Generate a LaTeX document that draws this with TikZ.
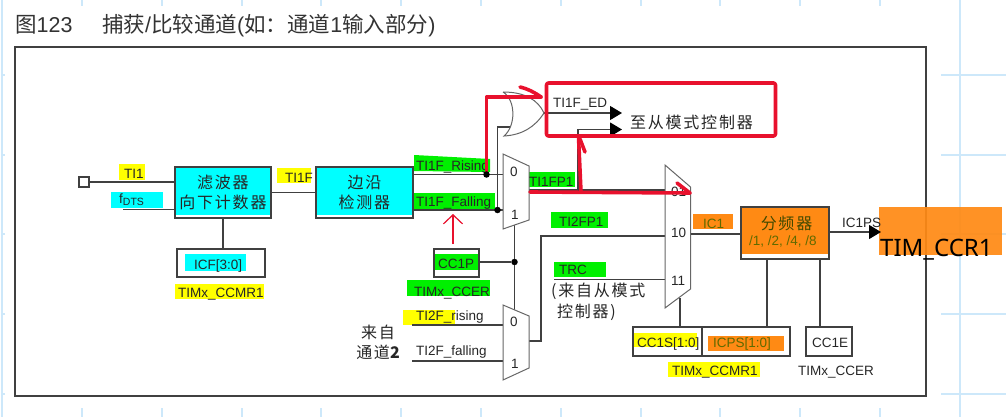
\documentclass[tikz,border=0pt]{standalone}
\usepackage{fontspec}
\setmainfont{Liberation Sans}
\newfontfamily\cjk{Noto Sans CJK SC}
\newfontfamily\cjkwide[LetterSpace=11]{Noto Sans CJK SC}
\newfontfamily\bigsans{Noto Sans}
\usetikzlibrary{arrows.meta}
\definecolor{gridblue}{HTML}{CDE8FA}
\definecolor{hlyellow}{HTML}{FFFF00}
\definecolor{hlcyan}{HTML}{00FFFF}
\definecolor{hlgreen}{HTML}{00F000}
\definecolor{hlorange}{HTML}{FF8A14}
\definecolor{markred}{HTML}{E8112D}
\definecolor{inkolive}{HTML}{5F6A00}

\begin{document}
\begin{tikzpicture}[
  x=1pt,y=-1pt,
  grid/.style={draw=gridblue,line width=1.6pt},
  wire/.style={draw=black!75,line width=1.1pt},
  frameline/.style={draw=black!75,line width=1.3pt},
  muxshape/.style={draw=black!60,line width=1pt,fill=white},
  block/.style={
    rectangle,draw=black!75,line width=1.2pt,inner sep=0pt,align=center,
    font=\cjkwide\fontsize{16}{20}\selectfont,text=black!85
  },
  regbox/.style={rectangle,draw=black!75,line width=1.2pt,inner sep=0pt},
  junction/.style={circle,fill=black,inner sep=0pt,minimum size=6.5pt},
  lab/.style={
    anchor=base west,inner sep=0pt,font=\fontsize{13.5}{15}\selectfont,
    text=black!85
  },
  cjklab/.style={
    anchor=west,inner sep=0pt,font=\cjkwide\fontsize{16}{20}\selectfont,
    text=black!85,align=center
  },
  titletext/.style={
    anchor=base west,inner sep=0pt,font=\fontsize{21.5}{24}\selectfont,
    text=black!80
  },
  sigarrow/.style={
    -{Triangle[length=12pt,width=14pt,color=black]},wire,shorten >=-1pt
  },
  redmark/.style={draw=markred,line width=3.6pt,line cap=round,line join=round},
  redarrow/.style={
    -{Straight Barb[length=9pt,width=19pt]},draw=markred,line width=1.2pt
  }
]
  \useasboundingbox (0,0) rectangle (1006,417);

  % page grid behind the screenshot
  \draw[grid] (2,0)--(2,417);
  \draw[grid] (960,0)--(960,417);
  \foreach \gx in {82,162,242,321,401,481,561,641,720,800,880}
    {\draw[grid] (\gx,0)--(\gx,6); \draw[grid] (\gx,408)--(\gx,417);}
  \foreach \gy in {75,155,234,314,394}
    {\draw[grid] (941,\gy)--(1006,\gy); \draw[grid] (2,\gy)--(5,\gy);}

  % title
  \node[titletext] (figno) at (15,33) {{\cjk 图}123};
  \node[titletext] (figtitle) at (102,33)
    {{\cjk 捕获}/{\cjk 比较通道}({\cjk 如^^^^ff1a通道}1{\cjk 输入部分})};

  \draw[frameline] (15,47) rectangle (926,396);

  % coloured marks
  \foreach \xa/\ya/\xb/\yb/\hl in {
    119/164/145/180/hlyellow, 111/192/163/208/hlcyan, 277/168/311/183/hlyellow,
    413/193/495/209/hlgreen, 526/172/575/187/hlgreen, 551/212/608/228/hlgreen,
    554/262/606/277/hlgreen, 693/214/733/229/hlorange, 185/254/246/271/hlcyan,
    175/284/264/299/hlyellow, 434/254/478/270/hlgreen, 407/280/490/296/hlgreen,
    403/310/455/325/hlyellow, 633/333/697/347/hlyellow, 708/336/784/351/hlorange,
    668/362/760/377/hlyellow, 175/167/271/215/hlcyan, 316/167/413/215/hlcyan,
    741/207/829/254/hlorange}
    {\fill[\hl] (\xa,\ya) rectangle (\xb,\yb);}
  \fill[hlgreen] (414,155)--(490,159)--(490,172)--(414,171)--cycle;
  \fill[hlorange,opacity=.93] (879,207) rectangle (1002,255);

  % input side
  \node[block,minimum width=96pt,minimum height=51pt] (filter) at (223,192.5)
    {滤波器\\向下计数器};
  \node[block,minimum width=97pt,minimum height=51pt] (edge) at (364.5,192.5)
    {边沿\\检测器};
  \node[regbox,minimum size=10pt] (pad) at (84,182) {};
  \node[regbox,minimum width=88pt,minimum height=28pt] (icf) at (221,263) {};
  \node[regbox,minimum width=45pt,minimum height=28pt] (cconep) at (456.5,263) {};
  \coordinate (fdts) at (123,209.5);
  \draw[wire] (pad) -- (pad -| filter.west);
  \draw[wire] (fdts) -- (fdts -| filter.west);
  \draw[wire] (filter) -- (edge);
  \draw[wire] (icf.north -| 223,0) -- (filter.south -| 223,0);

  % polarity and OR gate
  \coordinate (muxabot) at (514,225);
  \coordinate (muxaout) at (529,190);
  \coordinate (risein) at (503,174.5);
  \coordinate (fallin) at (503,210);
  \coordinate (muxcout) at (529,341);
  \coordinate (orin) at (510,127);
  \coordinate (ortip) at (544,113);
  \coordinate (tionetap) at (578,190);
  \coordinate (edout) at (621,113);
  \coordinate (fpout) at (621,129.5);
  \coordinate (muxbten) at (665,236);
  \coordinate (muxbeleven) at (665,279.7);
  \coordinate (muxbone) at (665,190);
  \coordinate (trcstart) at (554,279.7);
  \coordinate (risetwo) at (503,325);
  \coordinate (falltwo) at (503,361);

  \draw[wire] (risein -| edge.east) -- (risein);
  \draw[wire] (fallin -| edge.east) -- (fallin);
  \node[junction] (falldot) at (497.5,210) {};
  \draw[wire] (falldot) |- (orin);
  \node[junction] (poldot) at (514.5,262) {};
  \draw[wire] (cconep.east |- poldot) -- (poldot);
  \draw[wire] (muxabot -| poldot) -- (poldot) -- (poldot |- 0,310);
  \draw[wire] (412,325) -- (risetwo);
  \draw[wire] (412,361) -- (falltwo);
  \draw[wire] (muxaout) -- (muxbone);
  \draw[sigarrow] (ortip) -- (edout);
  \draw[sigarrow] (tionetap) |- (fpout);
  \draw[wire] (muxcout) -| (541,236) -- (muxbten);
  \draw[wire] (trcstart) -- (muxbeleven);

  \draw[muxshape] (503,154)--(529,166)--(529,220)--(503,229)--cycle;
  \draw[muxshape] (503,305)--(529,316)--(529,368)--(503,380)--cycle;
  \draw[muxshape] (665,165)--(690.5,187)--(690.5,289)--(665,308)--cycle;
  \draw[muxshape] (503,92) .. controls (525,92) and (538,100) .. (ortip)
    .. controls (535,127) and (522,135) .. (504,136)
    .. controls (516,126) and (516,100) .. (503,92);

  % output side
  \node[block,minimum width=88pt,minimum height=52pt] (divider) at (785,233) {};
  \node[regbox,minimum width=69pt,minimum height=29pt] (ccones) at (667.5,341.5) {};
  \node[regbox,minimum width=88pt,minimum height=29pt] (icps) at (746,341.5) {};
  \node[regbox,minimum width=46pt,minimum height=29pt] (ccone) at (829,341.5) {};
  \coordinate (divin) at (741,234);
  \coordinate (divout) at (880,232);
  \draw[wire] (690.5,234) -- (divin);
  \draw[sigarrow] (divider.east |- divout) -- (divout);
  \draw[wire] (ccones.north -| 680,0) -- (680,298);
  \draw[wire] (icps.north -| 767,0) -- (divider.south -| 767,0);
  \draw[wire] (ccone.north -| 820,0) -- (divider.south -| 820,0);

  % texts
  \node[lab] (titi) at (124,178.5) {TI1};
  \node[lab] (tifdts) at (119,203)
    {f\raisebox{-2.5pt}{\fontsize{10.5}{12}\selectfont DTS}};
  \node[lab] (titif) at (285,182.7) {TI1F};
  \node[lab] (tirise) at (416,170.5) {TI1F\_Rising};
  \node[lab] (tifall) at (416,206) {TI1F\_Falling};
  \node[lab] (tiicf) at (194,269) {ICF[3:0]};
  \node[lab] (ticcmr) at (178,297) {TIMx\_CCMR1};
  \node[lab] (tiponep) at (438,268) {CC1P};
  \node[lab] (ticcer) at (414,296.7) {TIMx\_CCER};
  \node[lab] (tirisetwo) at (416,320) {TI2F\_rising};
  \node[lab] (tifalltwo) at (416,355.7) {TI2F\_falling};
  \node[lab] (tied) at (553,108) {TI1F\_ED};
  \node[lab] (tifpone) at (529,186.7) {TI1FP1};
  \node[lab] (tifptwo) at (559,226.7) {TI2FP1};
  \node[lab] (titrc) at (559,274) {TRC};
  \node[lab,text=inkolive] (tiic) at (703,228) {IC1};
  \node[lab] (tips) at (842,227) {IC1PS};
  \node[lab,text=inkolive] (tidiv) at (749,245.7) {/1, /2, /4, /8};
  \node[lab] (tiones) at (637,347) {CC1S[1:0]};
  \node[lab,text=inkolive] (tiicps) at (713,347) {ICPS[1:0]};
  \node[lab] (tioneE) at (812,347) {CC1E};
  \node[lab] (ticcmrb) at (672,375.7) {TIMx\_CCMR1};
  \node[lab] (ticcerb) at (798,375.7) {TIMx\_CCER};
  \foreach \nm/\px/\py/\tx in {
    a0/510/176/0, a1/511/219/1, c0/510/326/0, c1/511/368/1,
    b1/671/196/01, b2/671/237/10, b3/671/285.6/11}
    {\node[lab] (mux\nm) at (\px,\py) {\tx};}
  \node[cjklab,anchor=center,text=inkolive!70!black] (tidivcn) at (786.5,223) {分频器};
  \node[cjklab] (tislave) at (630,122) {至从模式控制器};
  \node[cjklab,anchor=center] (tifrom) at (378,342) {来自\\通道{\bfseries 2}};
  \node[cjklab] (titrcone) at (551,291) {(来自从模式};
  \node[cjklab] (titrctwo) at (557,312) {控制器)};
  \node[anchor=base west,inner sep=0pt,font=\bigsans\fontsize{24}{26}\selectfont,text=black]
    (ticcr) at (880,256) {TIM\_CCR1};

  % hand marks
  \draw[redmark,rounded corners=2pt] (546.5,83) rectangle (775.5,136);
  \draw[redmark] (486.5,174.5) |- (541,97);
  \draw[redmark] (520,87) .. controls (528,89) and (534,92) .. (541,97);
  \draw[redmark] (530,192) -- (690,193);
  \draw[redmark] (581,192) -- (578.5,137);
  \draw[redmark] (580,139) -- (585,152);
  \draw[redmark] (677,183) -- (690,193);
  \node[junction] (risedot) at (486.5,174.5) {};
  \coordinate (polfrom) at (453,244);
  \coordinate (polto) at (453,214);
  \draw[redarrow] (polfrom) -- (polto);
\end{tikzpicture}
\end{document}
